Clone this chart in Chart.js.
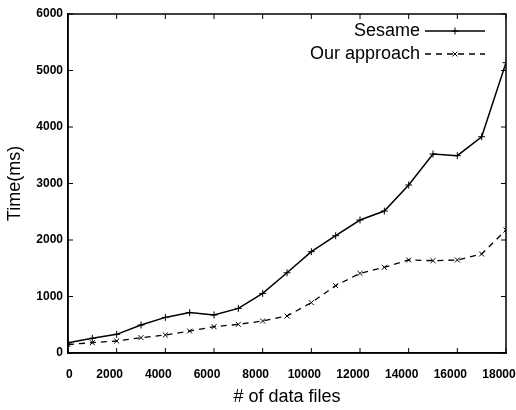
<!DOCTYPE html>
<html>
<head>
<meta charset="utf-8">
<script src="https://cdn.jsdelivr.net/npm/chart.js@4/dist/chart.umd.min.js"></script>
<style>
  html, body { margin: 0; padding: 0; background: #fff; }
  #wrap { width: 516px; height: 410px; }
</style>
</head>
<body>
<div id="wrap"><canvas id="chart" width="516" height="410"></canvas></div>
<script>
// data
const dataFiles = [0, 1000, 2000, 3000, 4000, 5000, 6000, 7000, 8000, 9000,
  10000, 11000, 12000, 13000, 14000, 15000, 16000, 17000, 18000];
const sesame = [180, 260, 330, 495, 630, 715, 673, 790, 1055, 1420,
  1793, 2076, 2354, 2513, 2973, 3522, 3492, 3828, 5138];
const ourApproach = [150, 182, 212, 271, 319, 389, 466, 507, 566, 655,
  891, 1192, 1410, 1516, 1646, 1634, 1646, 1752, 2177];
const seriesNames = ['Sesame', 'Our approach'];

const toPoints = (ys) => dataFiles.map((x, i) => ({ x: x, y: ys[i] }));
const plainNum = (v) => String(v);
// the scanned x labels sit a few px left of their ticks, except the 0
const xLabel = (v) => (v === 0 ? '     0' : String(v));

// inward tick marks + closed frame, like the gnuplot box
const frameTicks = {
  id: 'frameTicks',
  afterDraw(chart) {
    const { ctx, chartArea: a, scales } = chart;
    ctx.save();
    ctx.strokeStyle = '#000';
    ctx.lineWidth = 1.5;
    ctx.strokeRect(a.left, a.top, a.right - a.left, a.bottom - a.top);
    ctx.lineWidth = 1;
    ctx.beginPath();
    scales.x.ticks.forEach(t => {
      const px = scales.x.getPixelForValue(t.value);
      ctx.moveTo(px, a.bottom); ctx.lineTo(px, a.bottom - 5);
      ctx.moveTo(px, a.top); ctx.lineTo(px, a.top + 5);
    });
    scales.y.ticks.forEach(t => {
      const py = scales.y.getPixelForValue(t.value);
      ctx.moveTo(a.left, py); ctx.lineTo(a.left + 5, py);
      ctx.moveTo(a.right, py); ctx.lineTo(a.right - 5, py);
    });
    ctx.stroke();
    ctx.restore();
  }
};

// gnuplot style key: text right aligned, sample line to its right
const keyBox = {
  id: 'keyBox',
  afterDraw(chart) {
    const ctx = chart.ctx;
    const a = chart.chartArea;
    const textRight = a.right - 86;
    const lineL = a.right - 81, lineR = a.right - 21;
    ctx.save();
    ctx.font = '18px "Liberation Sans", Arial, sans-serif';
    ctx.fillStyle = '#000';
    ctx.textAlign = 'right';
    ctx.textBaseline = 'middle';
    chart.data.datasets.forEach((ds, i) => {
      const y = a.top + 17 + i * 23;
      ctx.fillText(seriesNames[i], textRight, y);
      ctx.strokeStyle = '#000';
      ctx.lineWidth = ds.borderWidth;
      ctx.setLineDash(ds.borderDash || []);
      ctx.beginPath();
      ctx.moveTo(lineL, y); ctx.lineTo(lineR, y);
      ctx.stroke();
      ctx.setLineDash([]);
      ctx.lineWidth = 1;
      Chart.helpers.drawPoint(ctx, { pointStyle: ds.pointStyle, radius: ds.pointRadius, borderWidth: 1 },
        (lineL + lineR) / 2, y);
    });
    ctx.restore();
  }
};

new Chart(document.getElementById('chart'), {
  type: 'line',
  data: {
    datasets: [
      {
        label: seriesNames[0],
        data: toPoints(sesame),
        borderColor: '#000',
        backgroundColor: '#000',
        borderWidth: 1.5,
        pointStyle: 'cross',
        pointRadius: 3.5,
        pointBorderWidth: 1,
        tension: 0
      },
      {
        label: seriesNames[1],
        data: toPoints(ourApproach),
        borderColor: '#000',
        backgroundColor: '#000',
        borderWidth: 1.3,
        borderDash: [6, 5],
        pointStyle: 'crossRot',
        pointRadius: 3.5,
        pointBorderWidth: 1,
        tension: 0
      }
    ]
  },
  options: {
    responsive: false,
    animation: false,
    layout: { padding: { top: 14, right: 10, left: 0, bottom: 0 } },
    plugins: { legend: { display: false }, tooltip: { enabled: false } },
    scales: {
      x: {
        type: 'linear',
        min: 0,
        max: 18000,
        afterFit(s) { s.height = 57; s.paddingLeft = 0; s.paddingRight = 0; },
        ticks: {
          stepSize: 2000,
          autoSkip: false,
          maxRotation: 0,
          padding: 14,
          labelOffset: -7,
          color: '#000',
          callback: xLabel,
          font: { family: '"Liberation Sans", Arial, sans-serif', size: 12, weight: 'bold' }
        },
        grid: { drawOnChartArea: false, drawTicks: false },
        border: { display: true, color: '#000', width: 1.5 },
        title: {
          display: true,
          text: '# of data files',
          color: '#000',
          padding: { top: 0, bottom: 2 },
          font: { family: '"Liberation Sans", Arial, sans-serif', size: 18 }
        }
      },
      y: {
        min: 0,
        max: 6000,
        afterFit(s) { s.width = 68; },
        ticks: {
          stepSize: 1000,
          padding: 5,
          color: '#000',
          callback: plainNum,
          font: { family: '"Liberation Sans", Arial, sans-serif', size: 12, weight: 'bold' }
        },
        grid: { drawOnChartArea: false, drawTicks: false },
        border: { display: true, color: '#000', width: 1.5 },
        title: {
          display: true,
          text: 'Time(ms)',
          color: '#000',
          padding: { top: 4, bottom: 0 },
          font: { family: '"Liberation Sans", Arial, sans-serif', size: 18 }
        }
      }
    }
  },
  plugins: [frameTicks, keyBox]
});
</script>
</body>
</html>
